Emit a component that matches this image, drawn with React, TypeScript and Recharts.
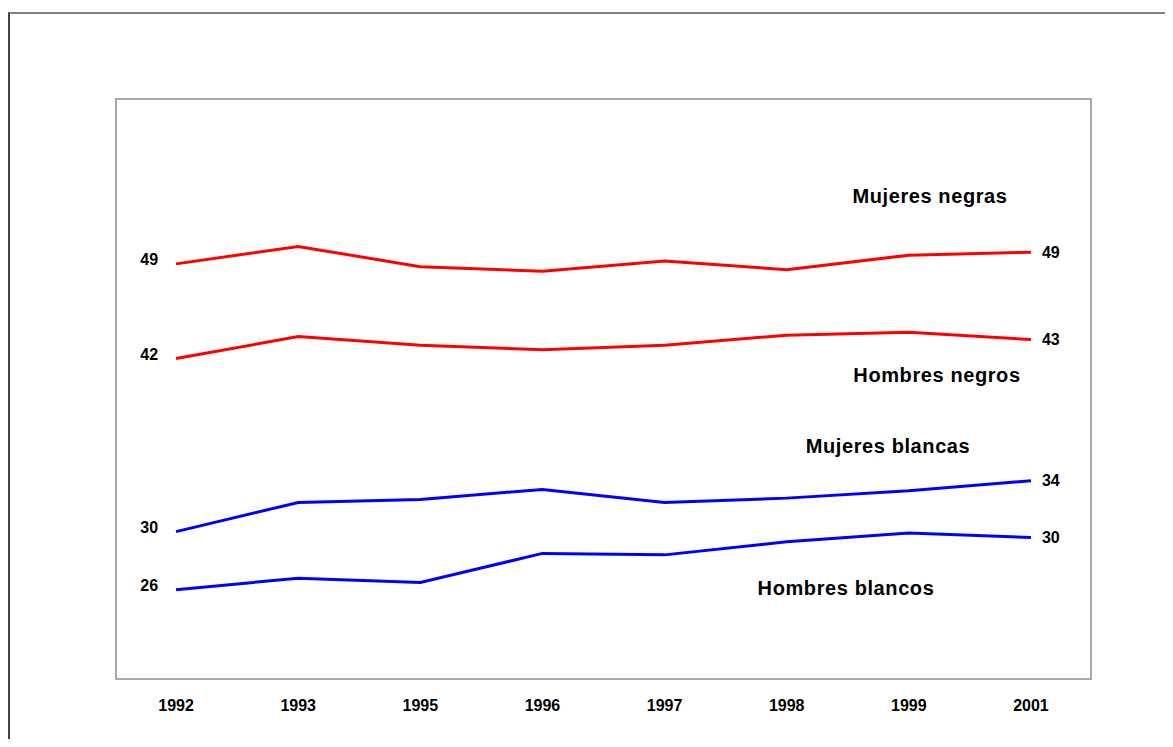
import { LineChart, Line, XAxis, YAxis, LabelList } from "recharts";

const years = ["1992", "1993", "1995", "1996", "1997", "1998", "1999", "2001"];
const mujeresNegras = [48.6, 49.8, 48.4, 48.1, 48.8, 48.2, 49.2, 49.4];
const hombresNegros = [42.1, 43.6, 43.0, 42.7, 43.0, 43.7, 43.9, 43.4];
const mujeresBlancas = [30.2, 32.2, 32.4, 33.1, 32.2, 32.5, 33.0, 33.7];
const hombresBlancos = [26.2, 27.0, 26.7, 28.7, 28.6, 29.5, 30.1, 29.8];

const data = years.map((year, i) => ({
  year,
  mn: mujeresNegras[i],
  hn: hombresNegros[i],
  mb: mujeresBlancas[i],
  hb: hombresBlancos[i],
}));

const font = '"Liberation Sans", Arial, sans-serif';
const last = years.length - 1;

const EndLabel = (props: any) => {
  const { x, y, value, index } = props;
  if (index === 0) {
    return (
      <text x={x - 18} y={y - 4} textAnchor="end" dominantBaseline="central"
        fontFamily={font} fontWeight="bold" fontSize={16} fill="#000">
        {Math.round(value)}
      </text>
    );
  }
  if (index === last) {
    return (
      <text x={x + 11} y={y} textAnchor="start" dominantBaseline="central"
        fontFamily={font} fontWeight="bold" fontSize={16} fill="#000">
        {Math.round(value)}
      </text>
    );
  }
  return null;
};

const nameStyle: React.CSSProperties = {
  position: "absolute",
  fontFamily: font,
  fontWeight: "bold",
  fontSize: 20,
  letterSpacing: 0.6,
  color: "#000",
  transform: "translate(-50%, -50%)",
  whiteSpace: "nowrap",
};

const App = () => {
  return (
    <div style={{ position: "relative", width: 1157, height: 731, overflow: "hidden" }}>
      <div
        style={{
          position: "absolute",
          left: 0,
          top: 4,
          width: 1400,
          height: 1000,
          borderTop: "2px solid #808080",
          borderLeft: "2px solid #404040",
        }}
      />
      <div
        style={{
          position: "absolute",
          left: 107,
          top: 90,
          width: 977,
          height: 582,
          boxSizing: "border-box",
          border: "2px solid #a8a8a8",
        }}
      />
      <div style={{ position: "absolute", left: 0, top: 0 }}>
        <LineChart
          width={1157}
          height={731}
          data={data}
          margin={{ top: 90, right: 73, left: 107, bottom: 29 }}
        >
          <XAxis
            dataKey="year"
            scale="band"
            axisLine={false}
            tickLine={false}
            height={30}
            tickMargin={14}
            tick={{ fontFamily: font, fontWeight: "bold", fontSize: 16, fill: "#000" }}
          />
          <YAxis hide domain={[20, 60]} />
          <Line dataKey="mn" stroke="#ff0000" strokeWidth={3} dot={false} isAnimationActive={false}>
            <LabelList dataKey="mn" content={EndLabel} />
          </Line>
          <Line dataKey="hn" stroke="#ff0000" strokeWidth={3} dot={false} isAnimationActive={false}>
            <LabelList dataKey="hn" content={EndLabel} />
          </Line>
          <Line dataKey="mb" stroke="#0000ff" strokeWidth={3} dot={false} isAnimationActive={false}>
            <LabelList dataKey="mb" content={EndLabel} />
          </Line>
          <Line dataKey="hb" stroke="#0000ff" strokeWidth={3} dot={false} isAnimationActive={false}>
            <LabelList dataKey="hb" content={EndLabel} />
          </Line>
        </LineChart>
      </div>
      <div style={{ ...nameStyle, left: 922, top: 188 }}>Mujeres negras</div>
      <div style={{ ...nameStyle, left: 929, top: 367 }}>Hombres negros</div>
      <div style={{ ...nameStyle, left: 880, top: 438 }}>Mujeres blancas</div>
      <div style={{ ...nameStyle, left: 838, top: 580 }}>Hombres blancos</div>
    </div>
  );
};

export default App;
